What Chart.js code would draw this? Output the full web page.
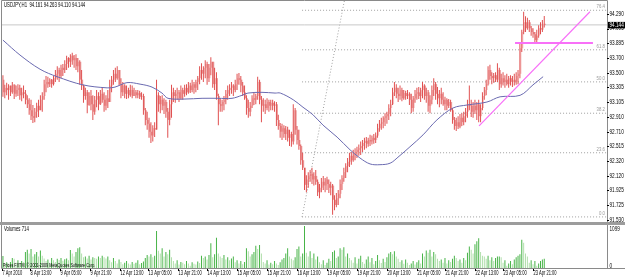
<!DOCTYPE html>
<html>
<head>
<meta charset="utf-8">
<script src="https://cdn.jsdelivr.net/npm/chart.js@4.4.1/dist/chart.umd.min.js"></script>
<style>
  html, body { margin: 0; padding: 0; background: #fff; }
  #wrap { position: relative; width: 625px; height: 277px; overflow: hidden; background: #fff; }
  #main { position: absolute; left: 0; top: 0; width: 625px; height: 222px; }
  #sep { position: absolute; left: 0; top: 222px; width: 625px; height: 3px; background: #9c9c9c; }
  #vol { position: absolute; left: 0; top: 225px; width: 625px; height: 52px; }
</style>
</head>
<body>
<div id="wrap">
  <canvas id="main" width="625" height="222"></canvas>
  <div id="sep"></div>
  <canvas id="vol" width="625" height="52"></canvas>
</div>
<script>
// USDJPY H1, 7 Apr 2010 21:00 .. 23 Apr 2010 (one candle per hour)
const opens = [
  93.41,93.24,93.30,93.27,93.33,93.24,93.34,93.22, 93.27,93.30,93.20,93.24,93.22,93.14,93.08,93.00,
  92.92,92.90,92.98,93.06,93.00,93.14,93.19,93.35, 93.38,93.35,93.41,93.35,93.43,93.49,93.54,93.46,
  93.57,93.54,93.62,93.70,93.65,93.73,93.67,93.70, 93.59,93.65,93.41,93.33,93.19,93.24,93.07,93.19,
  93.08,92.98,93.14,93.19,93.08,93.22,93.14,93.06, 93.16,93.11,93.33,93.41,93.49,93.43,93.54,93.35,
  93.24,93.33,93.22,93.27,93.20,93.27,93.19,93.24, 93.20,93.23,93.18,93.19,93.00,92.87,92.82,92.71,
  92.66,92.76,92.74,93.20,93.08,93.14,93.06,93.11, 92.98,92.87,93.08,93.24,93.19,93.22,93.24,93.16,
  93.27,93.22,93.30,93.24,93.33,93.27,93.35,93.30, 93.38,93.43,93.54,93.49,93.57,93.62,93.43,93.57,
  93.65,93.35,93.43,93.19,93.08,93.06,93.11,93.14, 93.22,93.27,93.30,93.33,93.27,93.35,93.43,93.41,
  93.33,93.24,93.16,93.03,92.98,93.06,93.16,93.14, 93.19,93.38,93.14,93.06,93.08,93.03,93.11,93.06,
  93.10,93.06,93.08,92.87,92.79,92.71,92.76,92.68, 92.74,92.63,92.68,92.58,93.00,92.74,92.60,92.52,
  92.33,92.23,92.00,92.07,92.12,92.15,92.07,92.12, 92.04,91.90,91.96,92.04,91.99,92.07,92.01,91.96,
  91.99,91.80,91.73,91.82,91.88,92.01,92.09,92.17, 92.25,92.31,92.39,92.33,92.41,92.44,92.47,92.49,
  92.52,92.56,92.59,92.55,92.60,92.58,92.63,92.60, 92.66,92.76,92.82,92.84,92.90,92.92,92.95,93.03,
  93.08,93.24,93.30,93.22,93.19,93.27,93.16,93.23, 93.19,93.22,93.14,93.03,93.16,93.22,93.24,93.19,
  93.27,93.33,93.19,93.24,93.06,93.14,93.27,93.35, 93.22,93.16,93.22,93.14,93.08,93.14,93.06,93.11,
  93.00,92.87,92.79,92.84,92.78,92.90,92.84,92.92, 92.98,93.08,93.06,92.98,93.06,93.00,93.08,92.92,
  93.03,93.19,93.27,93.35,93.54,93.46,93.43,93.47, 93.41,93.54,93.35,93.43,93.38,93.41,93.35,93.43,
  93.38,93.41,93.38,93.46,93.49,93.83,94.05,94.18, 94.10,94.18,94.10,94.05,94.02,93.94,94.00,94.10,94.08,94.161
];
const highs = [
  93.47,93.34,93.37,93.35,93.33,93.38,93.35,93.33, 93.35,93.34,93.30,93.33,93.27,93.20,93.16,93.14,
  93.07,93.03,93.10,93.14,93.20,93.24,93.41,93.46, 93.45,93.43,93.42,93.46,93.54,93.59,93.57,93.61,
  93.62,93.67,93.73,93.71,93.75,93.77,93.74,93.75, 93.70,93.67,93.54,93.34,93.30,93.27,93.24,93.27,
  93.20,93.19,93.27,93.24,93.27,93.30,93.24,93.20, 93.27,93.41,93.46,93.54,93.57,93.59,93.54,93.43,
  93.38,93.35,93.33,93.30,93.34,93.33,93.30,93.27, 93.27,93.26,93.24,93.22,93.03,92.98,92.90,92.84,
  92.80,92.84,93.41,93.24,93.19,93.20,93.16,93.14, 93.03,93.14,93.34,93.30,93.27,93.30,93.27,93.33,
  93.30,93.34,93.35,93.38,93.37,93.41,93.38,93.41, 93.46,93.59,93.63,93.59,93.67,93.65,93.62,93.71,
  93.65,93.57,93.51,93.22,93.16,93.14,93.19,93.27, 93.33,93.35,93.38,93.35,93.41,93.49,93.50,93.46,
  93.38,93.33,93.20,93.14,93.11,93.20,93.24,93.22, 93.45,93.41,93.19,93.16,93.14,93.16,93.14,93.14,
  93.14,93.12,93.11,92.94,92.83,92.82,92.80,92.79, 92.78,92.74,92.71,93.08,93.03,92.79,92.74,92.54,
  92.43,92.23,92.13,92.17,92.20,92.23,92.17,92.20, 92.07,92.01,92.09,92.12,92.09,92.11,92.07,92.04,
  92.01,91.86,91.89,91.93,92.07,92.13,92.23,92.29, 92.36,92.43,92.44,92.47,92.49,92.51,92.54,92.58,
  92.60,92.63,92.64,92.63,92.67,92.66,92.68,92.70, 92.82,92.87,92.90,92.92,92.96,92.98,93.08,93.14,
  93.30,93.38,93.35,93.30,93.33,93.30,93.27,93.26, 93.27,93.24,93.22,93.19,93.27,93.30,93.31,93.30,
  93.38,93.35,93.30,93.27,93.20,93.33,93.43,93.38, 93.31,93.27,93.30,93.24,93.18,93.16,93.15,93.14,
  93.03,92.91,92.90,92.92,92.95,92.96,92.98,93.03, 93.14,93.33,93.14,93.11,93.14,93.11,93.14,93.08,
  93.24,93.31,93.41,93.59,93.61,93.51,93.50,93.51, 93.63,93.57,93.49,93.51,93.47,93.49,93.46,93.47,
  93.46,93.49,93.51,93.54,93.89,94.08,94.32,94.26, 94.24,94.21,94.13,94.10,94.05,94.08,94.14,94.18,94.21,94.263
];
const lows = [
  93.18,93.16,93.20,93.14,93.19,93.22,93.15,93.18, 93.19,93.14,93.12,93.16,93.08,93.03,92.94,92.87,
  92.83,92.84,92.90,92.91,93.00,92.98,93.14,93.24, 93.30,93.31,93.30,93.33,93.38,93.41,93.38,93.43,
  93.46,93.50,93.54,93.57,93.58,93.61,93.57,93.54, 93.51,93.34,93.27,93.10,93.14,92.96,93.06,93.00,
  92.87,92.94,93.04,93.00,93.07,93.10,92.98,93.00, 93.03,93.11,93.24,93.34,93.38,93.41,93.33,93.16,
  93.19,93.16,93.15,93.16,93.18,93.16,93.19,93.16, 93.16,93.15,93.14,92.94,92.80,92.74,92.63,92.56,
  92.58,92.64,92.74,92.98,92.96,93.00,92.95,92.90, 92.63,92.80,92.90,93.11,93.10,93.14,93.11,93.14,
  93.14,93.18,93.20,93.22,93.23,93.24,93.22,93.24, 93.27,93.35,93.41,93.38,93.43,93.34,93.38,93.47,
  93.30,93.27,93.14,92.80,92.98,92.98,93.00,93.08, 93.14,93.19,93.22,93.19,93.24,93.27,93.34,93.24,
  93.19,93.14,92.94,92.90,92.92,93.03,93.07,93.08, 93.14,93.08,92.84,92.98,92.95,93.00,92.98,93.00,
  93.00,92.98,92.79,92.74,92.63,92.60,92.63,92.60, 92.58,92.52,92.51,92.54,92.67,92.54,92.47,92.27,
  92.20,91.93,91.90,91.96,92.04,92.01,91.99,92.00, 91.85,91.82,91.90,91.93,91.90,91.93,91.89,91.86,
  91.60,91.66,91.70,91.73,91.82,91.93,92.04,92.09, 92.17,92.24,92.27,92.31,92.33,92.36,92.39,92.40,
  92.44,92.47,92.49,92.51,92.52,92.54,92.55,92.56, 92.63,92.71,92.74,92.76,92.79,92.82,92.87,92.92,
  93.07,93.19,93.16,93.11,93.14,93.12,93.14,93.14, 93.15,93.07,92.96,92.98,93.10,93.14,93.15,93.11,
  93.16,93.14,93.10,92.98,92.96,93.08,93.19,93.14, 93.08,93.04,93.08,93.06,93.00,93.00,93.03,92.98,
  92.82,92.74,92.72,92.75,92.76,92.79,92.80,92.84, 92.90,93.00,92.91,92.90,92.95,92.87,92.84,92.84,
  93.00,93.14,93.20,93.33,93.41,93.35,93.37,93.38, 93.38,93.27,93.30,93.33,93.30,93.33,93.30,93.33,
  93.31,93.33,93.34,93.35,93.43,93.78,94.02,94.05, 94.08,94.05,94.00,93.97,93.90,93.90,93.97,94.02,94.05,94.110
];
const closes = [
  93.24,93.30,93.27,93.33,93.24,93.34,93.22,93.27, 93.30,93.20,93.24,93.22,93.14,93.08,93.00,92.92,
  92.90,92.98,93.06,93.00,93.14,93.19,93.35,93.38, 93.35,93.41,93.35,93.43,93.49,93.54,93.46,93.57,
  93.54,93.62,93.70,93.65,93.73,93.67,93.70,93.59, 93.65,93.41,93.33,93.19,93.24,93.07,93.19,93.08,
  92.98,93.14,93.19,93.08,93.22,93.14,93.06,93.16, 93.11,93.33,93.41,93.49,93.43,93.54,93.35,93.24,
  93.33,93.22,93.27,93.20,93.27,93.19,93.24,93.20, 93.23,93.18,93.19,93.00,92.87,92.82,92.71,92.66,
  92.76,92.74,93.20,93.08,93.14,93.06,93.11,92.98, 92.87,93.08,93.24,93.19,93.22,93.24,93.16,93.27,
  93.22,93.30,93.24,93.33,93.27,93.35,93.30,93.38, 93.43,93.54,93.49,93.57,93.62,93.43,93.57,93.65,
  93.35,93.43,93.19,93.08,93.06,93.11,93.14,93.22, 93.27,93.30,93.33,93.27,93.35,93.43,93.41,93.33,
  93.24,93.16,93.03,92.98,93.06,93.16,93.14,93.19, 93.38,93.14,93.06,93.08,93.03,93.11,93.06,93.10,
  93.06,93.08,92.87,92.79,92.71,92.76,92.68,92.74, 92.63,92.68,92.58,93.00,92.74,92.60,92.52,92.33,
  92.23,92.00,92.07,92.12,92.15,92.07,92.12,92.04, 91.90,91.96,92.04,91.99,92.07,92.01,91.96,91.99,
  91.80,91.73,91.82,91.88,92.01,92.09,92.17,92.25, 92.31,92.39,92.33,92.41,92.44,92.47,92.49,92.52,
  92.56,92.59,92.55,92.60,92.58,92.63,92.60,92.66, 92.76,92.82,92.84,92.90,92.92,92.95,93.03,93.08,
  93.24,93.30,93.22,93.19,93.27,93.16,93.23,93.19, 93.22,93.14,93.03,93.16,93.22,93.24,93.19,93.27,
  93.33,93.19,93.24,93.06,93.14,93.27,93.35,93.22, 93.16,93.22,93.14,93.08,93.14,93.06,93.11,93.00,
  92.87,92.79,92.84,92.78,92.90,92.84,92.92,92.98, 93.08,93.06,92.98,93.06,93.00,93.08,92.92,93.03,
  93.19,93.27,93.35,93.54,93.46,93.43,93.47,93.41, 93.54,93.35,93.43,93.38,93.41,93.35,93.43,93.38,
  93.41,93.38,93.46,93.49,93.83,94.05,94.18,94.10, 94.18,94.10,94.05,94.02,93.94,94.00,94.10,94.08,94.16,94.144
];
const volumes = [
  315,120,150,110,160,260,240,140,200,120, 180,150,420,480,380,500,300,360,420,300,
  460,320,250,180,220,140,260,200,160,240, 210,260,190,230,250,200,470,380,300,420,
  520,540,380,280,300,250,320,220,280,260, 240,300,260,320,280,250,300,200,150,260,
  180,120,220,160,100,140,180,120,90,160,  110,140,200,100,130,170,260,340,300,360,
  280,320,970,450,380,520,300,420,360,480, 280,180,120,200,90,160,140,100,180,120,
  60,150,110,90,170,130,320,260,300,220,   340,650,280,360,790,380,300,260,340,220,
  280,200,250,300,150,200,120,180,100,160, 520,440,300,360,420,580,500,600,380,160,
  120,200,90,140,100,180,120,80,150,220,   260,380,520,300,240,200,280,500,560,300,
  380,1099,400,300,440,260,380,220,300,150, 100,200,80,140,240,180,420,460,260,300,
  520,480,540,300,380,260,200,140,280,120, 240,320,160,110,220,300,150,260,100,180,
  340,200,130,240,160,280,380,420,360,440, 300,240,160,200,110,220,140,80,120,180,
  90,150,200,120,380,300,460,400,480,300,  420,360,240,180,220,140,260,120,200,160,
  240,320,260,180,220,140,260,200,400,560, 480,380,620,700,780,420,320,300,240,320,
  200,280,180,260,300,300,280,140,200,60,  120,180,100,220,280,320,360,740,660,380,
  300,140,200,100,180,60,120,180,220,240
];

// moving average: bar position and value
const maPos = [0, 9.1, 19.8, 28.9, 42.7, 55.6, 59.8, 66.2, 73.2, 79.6, 84.9, 88.1, 97.2, 106.3, 114.8, 122.3,
  127.6, 130.8, 138.3, 145.3, 148.1, 155, 160.2, 165.5, 170.9, 178.4, 185.3, 190.6, 196, 201.3, 206.7, 210.9,
  217.3, 224.3, 231.7, 240.3, 247.8, 258.4, 265.4, 276.1, 283, 288.4];
const maVal = [93.94, 93.74, 93.55, 93.45, 93.34, 93.30, 93.31, 93.37, 93.35, 93.31, 93.23, 93.16, 93.15, 93.16, 93.16, 93.16,
  93.20, 93.23, 93.24, 93.23, 93.23, 93.14, 93.04, 92.94, 92.80, 92.64, 92.47, 92.36, 92.28, 92.27, 92.29, 92.37,
  92.51, 92.67, 92.87, 93.03, 93.07, 93.11, 93.18, 93.20, 93.34, 93.45];

// fibonacci object
const fiboLevels = ['0.0', '23.6', '38.2', '50.0', '61.8', '76.4'];
const fiboPrices = [91.57, 92.43, 92.96, 93.38, 93.81, 94.34];
const fiboFrom = [159.7, 91.57];
const fiboTo = [188.0, 95.20];

// hand drawn objects
const trendFrom = [254.2, 92.79];
const trendTo = [313.4, 94.32];
const levelFrom = [273.4, 93.90];
const levelTo = [315.0, 93.90];

const priceTicks = [94.290, 94.095, 93.895, 93.700, 93.500, 93.305, 93.105, 92.910, 92.710, 92.515, 92.320, 92.120, 91.925, 91.725, 91.530];
const timeLabels = ['7 Apr 2010', '8 Apr 13:00', '9 Apr 05:00', '9 Apr 21:00', '12 Apr 13:00', '13 Apr 05:00', '13 Apr 21:00',
  '14 Apr 13:00', '15 Apr 05:00', '15 Apr 21:00', '16 Apr 13:00', '19 Apr 05:00', '19 Apr 21:00', '20 Apr 13:00',
  '21 Apr 05:00', '21 Apr 21:00', '22 Apr 13:00', '23 Apr 05:00', '23 Apr 21:00'];
const timeTickPos = [-0.5, 14.5, 30.5, 46.5, 62.5, 77.5, 93.5, 109, 125, 141, 157, 173, 189, 205, 221, 236, 252, 267, 283];

const lastPrice = 94.144;
const volTop = 1099;

const FONT = '"Liberation Sans", Arial, sans-serif';
const X_MIN = -0.5, X_MAX = 322.5;
const Y_MIN = 91.5018, Y_MAX = 94.4643;

const WICK = '#e05050';
const BULL = '#f5c4c4';
const BEAR = '#ea9c9c';
const PINK = '#f870f8';

const idx = opens.map((_, i) => i);
const seg = (a, b) => [{x: a[0], y: a[1]}, {x: b[0], y: b[1]}];

// small squeezed text, like the terminal's bitmap font
function tinyText(ctx, text, x, y, size, align, sx) {
    ctx.save();
    ctx.translate(x, y);
    ctx.scale(sx || 0.7, 1);
    ctx.font = size + 'px ' + FONT;
    ctx.textAlign = align || 'left';
    ctx.fillText(text, 0, 0);
    ctx.restore();
}

const mainDecor = {
    id: 'mainDecor',
    afterDraw(chart) {
        const {ctx, scales: {x, y}} = chart;
        ctx.save();
        ctx.strokeStyle = '#8a8a8a';
        ctx.lineWidth = 1;
        ctx.beginPath();
        ctx.moveTo(1.5, 222); ctx.lineTo(1.5, 0.5); ctx.lineTo(607.5, 0.5); ctx.lineTo(607.5, 222);
        ctx.stroke();

        ctx.fillStyle = '#000';
        ctx.textBaseline = 'middle';
        priceTicks.forEach(v => {
            const py = y.getPixelForValue(v);
            ctx.fillRect(607, Math.round(py), 2, 1);
            tinyText(ctx, v.toFixed(3), 609.5, py, 6.5, 'left', 0.72);
        });

        const lp = y.getPixelForValue(lastPrice);
        ctx.fillStyle = '#000';
        ctx.fillRect(608, lp - 3, 17, 6.5);
        ctx.fillStyle = '#fff';
        tinyText(ctx, lastPrice.toFixed(3), 609.5, lp + 0.3, 6.5, 'left', 0.72);

        ctx.fillStyle = '#999';
        ctx.textBaseline = 'bottom';
        fiboLevels.forEach((t, i) => tinyText(ctx, t, 605, y.getPixelForValue(fiboPrices[i]) - 0.5, 6, 'right', 0.72));

        ctx.fillStyle = '#000';
        ctx.textBaseline = 'middle';
        tinyText(ctx, 'USDJPY,H1  94.161 94.263 94.110 94.144', 4, 5.5, 6.5, 'left', 0.66);
        ctx.restore();
    }
};

const volDecor = {
    id: 'volDecor',
    afterDraw(chart) {
        const {ctx, scales: {x, y}} = chart;
        ctx.save();
        ctx.strokeStyle = '#8a8a8a';
        ctx.lineWidth = 1;
        ctx.beginPath();
        ctx.moveTo(1.5, 0); ctx.lineTo(1.5, 43.5); ctx.lineTo(625, 43.5);
        ctx.moveTo(607.5, 0); ctx.lineTo(607.5, 43.5);
        ctx.stroke();

        ctx.fillStyle = '#000';
        ctx.textBaseline = 'middle';
        tinyText(ctx, 'Volumes 714', 4, 4.5, 6.5, 'left', 0.66);
        tinyText(ctx, String(volTop), 609.5, 4, 6.5, 'left', 0.72);
        tinyText(ctx, '0', 609.5, 41, 6.5, 'left', 0.72);
        tinyText(ctx, 'Prices FXTM, \u00a9 2001-2009 MetaQuotes Software Corp.', 3, 40.5, 6, 'left', 0.62);

        ctx.textBaseline = 'top';
        timeLabels.forEach((t, i) => {
            const px = x.getPixelForValue(timeTickPos[i]);
            ctx.fillRect(Math.round(px), 44, 1, 2);
            tinyText(ctx, t, px + 0.5, 45, 6.5, 'left', 0.62);
        });
        ctx.restore();
    }
};

const lineDs = (data, color, width, dash, order) => ({
    type: 'line', data, borderColor: color, borderWidth: width, borderDash: dash || [],
    pointRadius: 0, tension: 0, order, fill: false
});

const fiboLines = fiboPrices.map(p => lineDs(seg([fiboFrom[0], p], [X_MAX, p]), '#a0a0a0', 1, [1, 2], 20));

// bars on a linear axis: no extra edge space
const xScale = { type: 'linear', min: X_MIN, max: X_MAX, offset: false, display: false, grid: { offset: false } };

new Chart(document.getElementById('main'), {
    type: 'bar',
    data: {
        datasets: [
            lineDs(seg(trendFrom, trendTo), PINK, 1.2, [], 1),
            lineDs(seg(levelFrom, levelTo), PINK, 2, [], 1),
            {
                type: 'line',
                data: maPos.map((p, i) => ({x: p, y: maVal[i]})),
                borderColor: '#6a6ab0', borderWidth: 1, pointRadius: 0, tension: 0.35, order: 2
            },
            {
                data: idx.map(i => ({x: i, y: [lows[i], highs[i]]})),
                backgroundColor: WICK,
                barThickness: 1, inflateAmount: 0, grouped: false, order: 4
            },
            {
                data: idx.map(i => ({x: i + 0.45, y: [Math.min(opens[i], closes[i]), Math.max(opens[i], closes[i])]})),
                backgroundColor: idx.map(i => closes[i] >= opens[i] ? BULL : BEAR),
                barThickness: 1.4, inflateAmount: 0, minBarLength: 1, grouped: false, order: 5
            },
            lineDs(seg([X_MIN, lastPrice], [X_MAX, lastPrice]), '#c8c8c8', 1, [], 15),
            lineDs(seg(fiboFrom, fiboTo), '#a0a0a0', 1, [1, 2], 20),
            ...fiboLines
        ]
    },
    options: {
        responsive: false,
        animation: false,
        devicePixelRatio: 1,
        layout: { padding: { left: 2, right: 18, top: 1, bottom: 0 } },
        plugins: { legend: { display: false }, tooltip: { enabled: false } },
        scales: {
            x: xScale,
            y: { min: Y_MIN, max: Y_MAX, display: false }
        }
    },
    plugins: [mainDecor]
});

new Chart(document.getElementById('vol'), {
    type: 'bar',
    data: {
        datasets: [{
            data: volumes.map((v, i) => ({x: i, y: v})),
            backgroundColor: volumes.map((v, i) => (i > 0 && v < volumes[i - 1]) ? '#b2dfad' : '#48b448'),
            barThickness: 1, inflateAmount: 0, grouped: false
        }]
    },
    options: {
        responsive: false,
        animation: false,
        devicePixelRatio: 1,
        layout: { padding: { left: 2, right: 18, top: 1, bottom: 9 } },
        plugins: { legend: { display: false }, tooltip: { enabled: false } },
        scales: {
            x: xScale,
            y: { min: 0, max: volTop, display: false }
        }
    },
    plugins: [volDecor]
});
</script>
</body>
</html>
